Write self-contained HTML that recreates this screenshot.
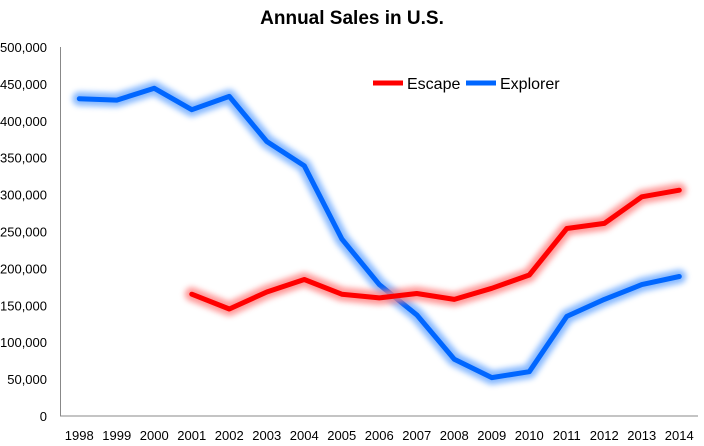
<!DOCTYPE html>
<html><head><meta charset="utf-8"><style>
body{margin:0;background:#fff;}
svg{display:block;font-family:"Liberation Sans",sans-serif;}
</style></head><body>
<svg id="chart" width="704" height="446">
<defs>
<filter id="glowB" x="-20%" y="-20%" width="140%" height="140%"><feGaussianBlur stdDeviation="3"/></filter>
</defs>
<text x="352" y="24" text-anchor="middle" font-size="19" font-weight="bold" fill="#000">Annual Sales in U.S.</text>
<g id="yaxis"></g><g id="xaxis"></g><g id="series"></g>
<g>
<line x1="373" y1="83" x2="403" y2="83" stroke="#ff0000" stroke-width="5"/>
<text x="407" y="89" font-size="16">Escape</text>
<line x1="466" y1="83" x2="496" y2="83" stroke="#0066ff" stroke-width="5"/>
<text x="500" y="89" font-size="16">Explorer</text>
</g>
</svg>
<script>
const years=["1998","1999","2000","2001","2002","2003","2004","2005","2006","2007","2008","2009","2010","2011","2012","2013","2014"];
const explorer=[430000,428000,444000,415000,433000,372000,339000,240000,178000,137000,77000,52000,60000,135000,158000,178000,189000];
const escape=[null,null,null,165000,145000,168000,185000,165000,160000,166000,158000,173000,191000,254000,261000,297000,306000];
const yTicks=[0,50000,100000,150000,200000,250000,300000,350000,400000,450000,500000];
const NS="http://www.w3.org/2000/svg";
const L=60.5,R=698,T=47,B=416,yMax=500000;
const bw=(R-L)/years.length;
const x=i=>L+bw*(i+0.5);
const y=v=>B-(v/yMax)*(B-T);
function mk(tag,attrs,parent){const e=document.createElementNS(NS,tag);for(const k in attrs)e.setAttribute(k,attrs[k]);parent.appendChild(e);return e;}
const ya=document.getElementById('yaxis'),xa=document.getElementById('xaxis'),sg=document.getElementById('series');
yTicks.forEach(v=>{const t=mk('text',{x:47,y:y(v)+5,'text-anchor':'end','font-size':13},ya);t.textContent=v.toLocaleString('en-US');

});
const ax=mk('path',{d:`M${L},${T} V${B} H${R}`,fill:'none',stroke:'#888','stroke-width':1},ya);


years.forEach((yr,i)=>{const t=mk('text',{x:x(i),y:440,'text-anchor':'middle','font-size':13},xa);t.textContent=yr;

});
function draw(vals,color,glow,name){
 const pts=[];vals.forEach((v,i)=>{if(v!=null)pts.push(x(i).toFixed(1)+','+y(v).toFixed(1));});
 const g=mk('g',{},sg);
 
 
 mk('polyline',{points:pts.join(' '),fill:'none',stroke:glow,'stroke-width':14,'stroke-linejoin':'round','stroke-linecap':'round',filter:'url(#glowB)',opacity:0.8},g);
 mk('polyline',{points:pts.join(' '),fill:'none',stroke:color,'stroke-width':5,'stroke-linejoin':'round','stroke-linecap':'round'},g);
}
draw(explorer,'#0066ff','#6aa8ff','explorer-line');
draw(escape,'#ff0000','#ff8080','escape-line');
</script>
</body></html>
